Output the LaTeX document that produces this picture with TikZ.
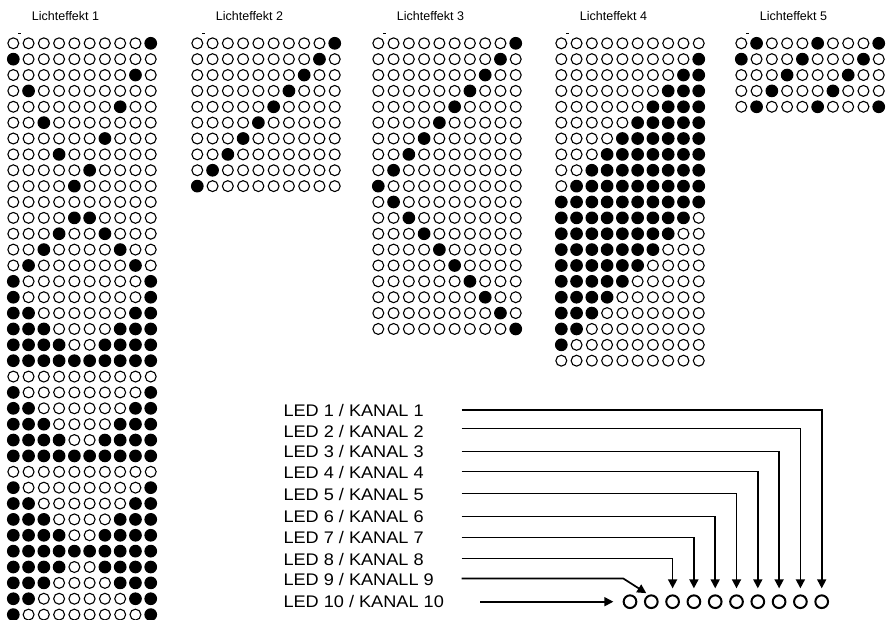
\documentclass[tikz,border=0pt]{standalone}
\usepackage{fontspec}
\setmainfont{Liberation Sans}
\newfontfamily\kanalfont[FakeStretch=1.08]{Liberation Sans}
\usepackage{tikz}
\usetikzlibrary{arrows.meta}
\tikzstyle{ledoff}=[circle,draw,line width=1.1pt,minimum size=10.9pt,inner sep=0pt]
\tikzstyle{ledon}=[circle,draw,fill=black,line width=1.1pt,minimum size=11.6pt,inner sep=0pt]
\tikzstyle{lamp}=[circle,draw,line width=2pt,minimum size=12.7pt,inner sep=0pt]
\tikzstyle{wire}=[draw,line width=1.7pt,-{Triangle[length=9pt,width=9pt]},shorten >=6pt]
\tikzstyle{effekt}=[font=\fontsize{12.5}{14}\selectfont,anchor=base west,inner sep=0pt]
\tikzstyle{kanal}=[font=\kanalfont\fontsize{16.8}{18}\selectfont,anchor=base west,inner sep=0pt]

% #1 effect, #2 left x, #3 rows
\newcommand{\ledgrid}[3]{%
  \node[effekt] (t#1) at (#2+18.4,20.7) {Lichteffekt #1};
  \draw[line width=0.8pt] (#2+5,33.4) -- ++(3,0);
  \foreach \row [count=\j] in {#3} {
    \foreach \v [count=\i] in \row {
      \ifnum\v=1
        \node[ledon] (L#1-\j-\i) at ({#2+(\i-1)*15.27},{43.3+(\j-1)*15.87}) {};
      \else
        \node[ledoff] (L#1-\j-\i) at ({#2+(\i-1)*15.27},{43.3+(\j-1)*15.87}) {};
      \fi
    }
  }%
}

\begin{document}
\begin{tikzpicture}[x=1pt,y=-1pt]
  \useasboundingbox (0,0) rectangle (888,620);

  \ledgrid{1}{13.3}{
    {0,0,0,0,0,0,0,0,0,1},{1,0,0,0,0,0,0,0,0,0},{0,0,0,0,0,0,0,0,1,0},
    {0,1,0,0,0,0,0,0,0,0},{0,0,0,0,0,0,0,1,0,0},{0,0,1,0,0,0,0,0,0,0},
    {0,0,0,0,0,0,1,0,0,0},{0,0,0,1,0,0,0,0,0,0},{0,0,0,0,0,1,0,0,0,0},
    {0,0,0,0,1,0,0,0,0,0},{0,0,0,0,0,0,0,0,0,0},{0,0,0,0,1,1,0,0,0,0},
    {0,0,0,1,0,0,1,0,0,0},{0,0,1,0,0,0,0,1,0,0},{0,1,0,0,0,0,0,0,1,0},
    {1,0,0,0,0,0,0,0,0,1},{1,0,0,0,0,0,0,0,0,1},{1,1,0,0,0,0,0,0,1,1},
    {1,1,1,0,0,0,0,1,1,1},{1,1,1,1,0,0,1,1,1,1},{1,1,1,1,1,1,1,1,1,1},
    {0,0,0,0,0,0,0,0,0,0},{1,0,0,0,0,0,0,0,0,1},{1,1,0,0,0,0,0,0,1,1},
    {1,1,1,0,0,0,0,1,1,1},{1,1,1,1,0,0,1,1,1,1},{1,1,1,1,1,1,1,1,1,1},
    {0,0,0,0,0,0,0,0,0,0},{1,0,0,0,0,0,0,0,0,1},{1,1,0,0,0,0,0,0,1,1},
    {1,1,1,0,0,0,0,1,1,1},{1,1,1,1,0,0,1,1,1,1},{1,1,1,1,1,1,1,1,1,1},
    {1,1,1,1,0,0,1,1,1,1},{1,1,1,0,0,0,0,1,1,1},{1,1,0,0,0,0,0,0,1,1},
    {1,0,0,0,0,0,0,0,0,1}}

  \ledgrid{2}{197.3}{
    {0,0,0,0,0,0,0,0,0,1},{0,0,0,0,0,0,0,0,1,0},{0,0,0,0,0,0,0,1,0,0},
    {0,0,0,0,0,0,1,0,0,0},{0,0,0,0,0,1,0,0,0,0},{0,0,0,0,1,0,0,0,0,0},
    {0,0,0,1,0,0,0,0,0,0},{0,0,1,0,0,0,0,0,0,0},{0,1,0,0,0,0,0,0,0,0},
    {1,0,0,0,0,0,0,0,0,0}}

  \ledgrid{3}{378.3}{
    {0,0,0,0,0,0,0,0,0,1},{0,0,0,0,0,0,0,0,1,0},{0,0,0,0,0,0,0,1,0,0},
    {0,0,0,0,0,0,1,0,0,0},{0,0,0,0,0,1,0,0,0,0},{0,0,0,0,1,0,0,0,0,0},
    {0,0,0,1,0,0,0,0,0,0},{0,0,1,0,0,0,0,0,0,0},{0,1,0,0,0,0,0,0,0,0},
    {1,0,0,0,0,0,0,0,0,0},{0,1,0,0,0,0,0,0,0,0},{0,0,1,0,0,0,0,0,0,0},
    {0,0,0,1,0,0,0,0,0,0},{0,0,0,0,1,0,0,0,0,0},{0,0,0,0,0,1,0,0,0,0},
    {0,0,0,0,0,0,1,0,0,0},{0,0,0,0,0,0,0,1,0,0},{0,0,0,0,0,0,0,0,1,0},
    {0,0,0,0,0,0,0,0,0,1}}

  \ledgrid{4}{561.3}{
    {0,0,0,0,0,0,0,0,0,0},{0,0,0,0,0,0,0,0,0,1},{0,0,0,0,0,0,0,0,1,1},
    {0,0,0,0,0,0,0,1,1,1},{0,0,0,0,0,0,1,1,1,1},{0,0,0,0,0,1,1,1,1,1},
    {0,0,0,0,1,1,1,1,1,1},{0,0,0,1,1,1,1,1,1,1},{0,0,1,1,1,1,1,1,1,1},
    {0,1,1,1,1,1,1,1,1,1},{1,1,1,1,1,1,1,1,1,1},{1,1,1,1,1,1,1,1,1,0},
    {1,1,1,1,1,1,1,1,0,0},{1,1,1,1,1,1,1,0,0,0},{1,1,1,1,1,1,0,0,0,0},
    {1,1,1,1,1,0,0,0,0,0},{1,1,1,1,0,0,0,0,0,0},{1,1,1,0,0,0,0,0,0,0},
    {1,1,0,0,0,0,0,0,0,0},{1,0,0,0,0,0,0,0,0,0},{0,0,0,0,0,0,0,0,0,0}}

  \ledgrid{5}{741.3}{
    {0,1,0,0,0,1,0,0,0,1},{1,0,0,0,1,0,0,0,1,0},{0,0,0,1,0,0,0,1,0,0},
    {0,0,1,0,0,0,1,0,0,0},{0,1,0,0,0,1,0,0,0,1}}

  % channel labels
  \node[kanal] (lbl1) at (283.3,416) {LED 1 / KANAL 1};
  \node[kanal] (lbl2) at (283.3,437) {LED 2 / KANAL 2};
  \node[kanal] (lbl3) at (283.3,457.5) {LED 3 / KANAL 3};
  \node[kanal] (lbl4) at (283.3,478) {LED 4 / KANAL 4};
  \node[kanal] (lbl5) at (283.3,500) {LED 5 / KANAL 5};
  \node[kanal] (lbl6) at (283.3,522.5) {LED 6 / KANAL 6};
  \node[kanal] (lbl7) at (283.3,543) {LED 7 / KANAL 7};
  \node[kanal] (lbl8) at (283.3,565) {LED 8 / KANAL 8};
  \node[kanal] (lbl9) at (283.3,585) {LED 9 / KANALL 9};
  \node[kanal] (lbl10) at (283.3,607.5) {LED 10 / KANAL 10};

  % led strip
  \foreach \n in {1,...,10}
    \node[lamp] (led\n) at ({630+(\n-1)*21.3},601.7) {};

  \coordinate (s1) at (461.7,410);
  \coordinate (s2) at (461.7,428.5);
  \coordinate (s3) at (461.7,451.5);
  \coordinate (s4) at (461.7,471.5);
  \coordinate (s5) at (461.7,493.5);
  \coordinate (s6) at (461.7,516.5);
  \coordinate (s7) at (461.7,537.5);
  \coordinate (s8) at (461.7,558.5);
  \coordinate (s9) at (461.7,578.5);
  \coordinate (k9) at (623.3,578.5);
  \coordinate (s10) at (480,601.7);

  \path[wire] (s1) -| (led10);
  \path[wire] (s2) -| (led9);
  \path[wire] (s3) -| (led8);
  \path[wire] (s4) -| (led7);
  \path[wire] (s5) -| (led6);
  \path[wire] (s6) -| (led5);
  \path[wire] (s7) -| (led4);
  \path[wire] (s8) -| (led3);
  \path[wire,shorten >=3pt] (s9) -- (k9) -- (led2.110);
  \path[wire,shorten >=9.3pt] (s10) -- (led1);

\end{tikzpicture}
\end{document}
